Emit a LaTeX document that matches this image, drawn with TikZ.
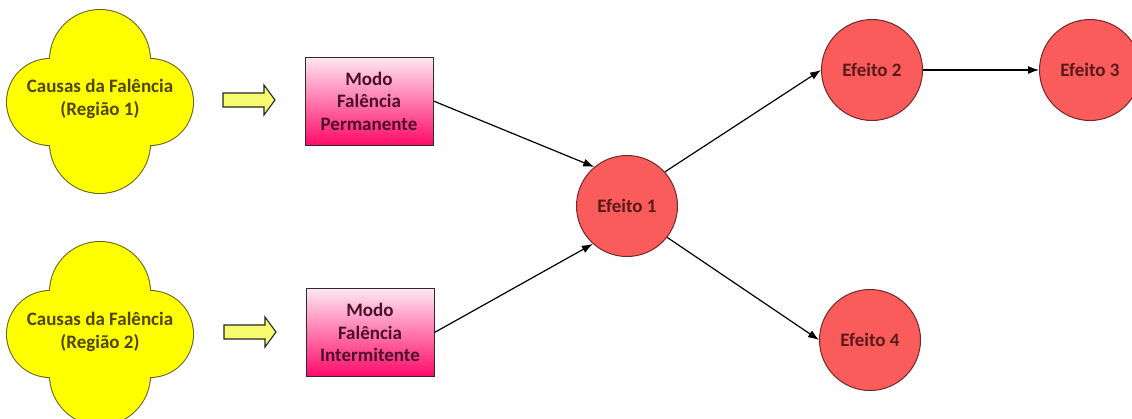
\documentclass[tikz,border=0pt]{standalone}
\usepackage{fontspec}
\setmainfont{Carlito}
\usetikzlibrary{arrows.meta}

\definecolor{cloudfill}{RGB}{255,255,0}
\definecolor{cloudline}{RGB}{105,95,25}
\definecolor{cloudtext}{RGB}{80,70,0}
\definecolor{efill}{RGB}{250,92,92}
\definecolor{eline}{RGB}{115,40,40}
\definecolor{etext}{RGB}{90,25,25}
\definecolor{boxtext}{RGB}{75,15,40}
\definecolor{boxline}{RGB}{50,40,45}
\definecolor{pinktop}{RGB}{255,232,242}
\definecolor{pinkbot}{RGB}{255,10,105}
\definecolor{arrowfill}{RGB}{246,250,110}

\tikzset{
  txt/.style={font=\bfseries\fontsize{19}{22.5}\selectfont, align=center},
  cloudlabel/.style={txt, text=cloudtext},
  effect/.style={circle, draw=eline, fill=efill, line width=1pt,
    minimum size=101pt, inner sep=0pt, txt, text=etext},
  modebox/.style={rectangle, draw=boxline, line width=1pt,
    top color=pinktop, bottom color=pinkbot,
    minimum width=128pt, minimum height=88pt, inner sep=0pt, txt, text=boxtext},
  link/.style={-{Latex[length=11pt,width=8pt]}, line width=1.2pt, black},
  blockarrow/.style={draw=black!85, line width=1.1pt, fill=arrowfill},
  % four-lobed cloud: outer half of a thick stroke stays visible after filling
  cloudpic/.pic={
    \draw[cloudline, line width=2pt]
      (0,-41) circle[radius=50] (0,42) circle[radius=50]
      (-50,1) circle[radius=43] (50,1) circle[radius=43];
    \fill[cloudfill]
      (0,-41) circle[radius=50] (0,42) circle[radius=50]
      (-50,1) circle[radius=43] (50,1) circle[radius=43];
  },
  % hollow block arrow pointing right, origin at its left middle
  blockpic/.pic={
    \draw[blockarrow] (0,-7) -- (41,-7) -- (41,-15) -- (52,0) -- (41,15)
      -- (41,7) -- (0,7) -- cycle;
  },
}

\begin{document}
\begin{tikzpicture}[x=1pt, y=-1pt]
  \useasboundingbox (0,0) rectangle (1132,418);
  \clip (0,0) rectangle (1132,418);
  \fill[white] (0,0) rectangle (1132,418);

  % failure causes
  \pic at (100,101) {cloudpic};
  \pic at (100,333) {cloudpic};
  \node[cloudlabel] (c1) at (100,99) {Causas da Falência\\(Região 1)};
  \node[cloudlabel] (c2) at (100,332) {Causas da Falência\\(Região 2)};

  % block arrows
  \pic at (223,100) {blockpic};
  \pic at (224,332) {blockpic};

  % failure modes
  \node[modebox] (b1) at (369,101) {Modo\\Falência\\Permanente};
  \node[modebox] (b2) at (370,332.5) {Modo\\Falência\\Intermitente};

  % effects
  \node[effect] (e1) at (627,206) {Efeito 1};
  \node[effect] (e2) at (872,70) {Efeito 2};
  \node[effect] (e3) at (1090,70) {Efeito 3};
  \node[effect] (e4) at (870,340) {Efeito 4};

  % connectors
  \draw[link] (b1.east) -- (e1.130);
  \draw[link] (b2.east) -- (e1.228);
  \draw[link] (e1.42) -- (e2.west);
  \draw[link] (e1.-38) -- (e4.west);
  \draw[link] (e2) -- (e3);
\end{tikzpicture}
\end{document}
